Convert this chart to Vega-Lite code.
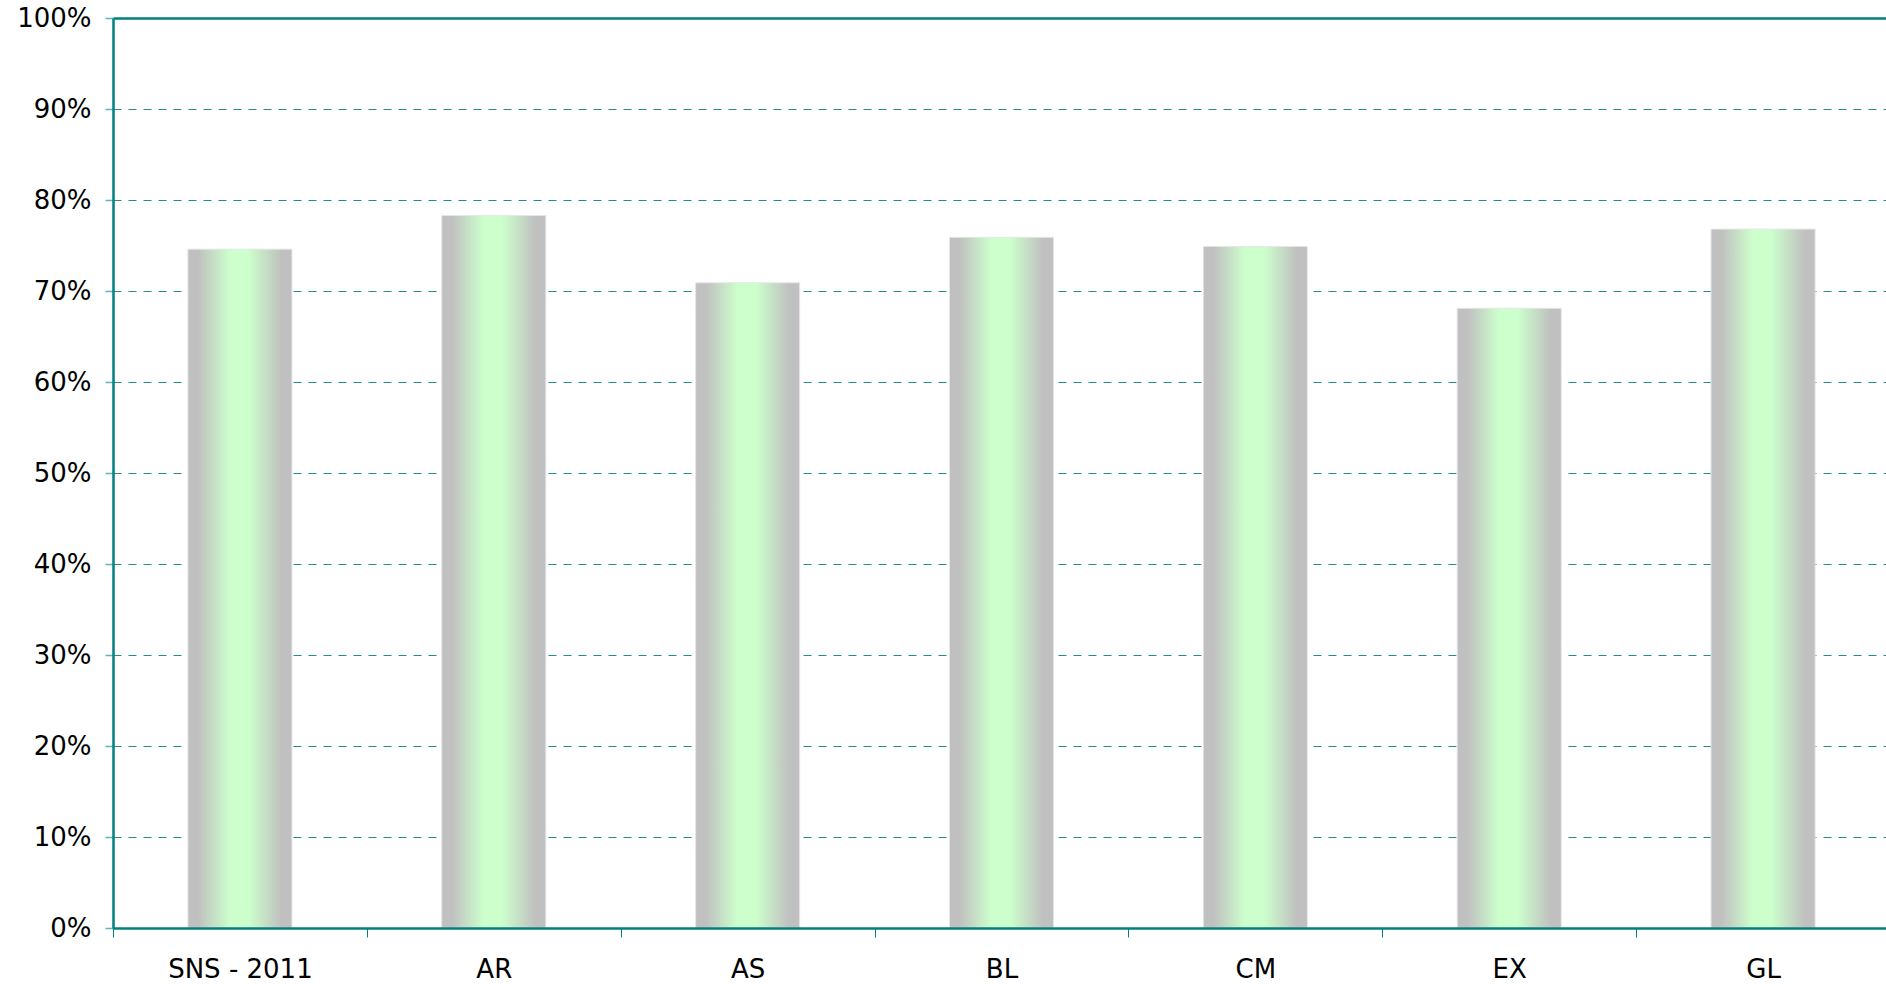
{
  "$schema": "https://vega.github.io/schema/vega-lite/v6.json",
  "autosize": {"type": "none"},
  "padding": {"left": 113, "top": 18, "right": 0, "bottom": 56},
  "width": 1773,
  "height": 910,
  "background": "white",
  "config": {"view": {"stroke": null}},
  "data": {"values": [
    {"region": "SNS - 2011", "value": 0.746},
    {"region": "AR", "value": 0.783},
    {"region": "AS", "value": 0.709},
    {"region": "BL", "value": 0.759},
    {"region": "CM", "value": 0.749},
    {"region": "EX", "value": 0.681},
    {"region": "GL", "value": 0.768}
  ]},
  "mark": {
    "type": "bar",
    "width": {"band": 0.41},
    "stroke": "#e6e6e6",
    "strokeWidth": 1,
    "color": {
      "gradient": "linear",
      "x1": 0, "x2": 1, "y1": 0, "y2": 0,
      "stops": [
        {"offset": 0, "color": "#c0c0c0"},
        {"offset": 0.1, "color": "#c0c0c0"},
        {"offset": 0.4, "color": "#ccffcc"},
        {"offset": 0.58, "color": "#ccffcc"},
        {"offset": 0.9, "color": "#c0c0c0"},
        {"offset": 1, "color": "#c0c0c0"}
      ]
    }
  },
  "encoding": {
    "x": {
      "field": "region",
      "type": "nominal",
      "sort": null,
      "scale": {"paddingInner": 0, "paddingOuter": 0, "range": [0, 1777]},
      "axis": {
        "title": null,
        "labelAngle": 0,
        "labelFont": "DejaVu Sans",
        "labelFontSize": 26,
        "labelColor": "#000000",
        "labelPadding": 19,
        "domainColor": "#008080",
        "domainWidth": 2.5,
        "tickColor": "#008080",
        "tickWidth": 1,
        "tickSize": 9,
        "tickBand": "extent",
        "grid": false,
        "zindex": 1
      }
    },
    "y": {
      "field": "value",
      "type": "quantitative",
      "scale": {"domain": [0, 1], "nice": false},
      "axis": {
        "title": null,
        "values": [0, 0.1, 0.2, 0.3, 0.4, 0.5, 0.6, 0.7, 0.8, 0.9, 1],
        "format": ".0%",
        "labelFont": "DejaVu Sans",
        "labelFontSize": 26,
        "labelColor": "#000000",
        "labelPadding": 14,
        "domainColor": "#008080",
        "domainWidth": 2.5,
        "tickColor": "#66b3b3",
        "tickWidth": 1.5,
        "tickSize": 8,
        "grid": true,
        "gridColor": {"condition": {"test": "datum.value === 1", "value": "#008080"}, "value": "#1f8f8a"},
        "gridWidth": {"condition": {"test": "datum.value === 1", "value": 2.5}, "value": 1},
        "gridDash": {"condition": {"test": "datum.value === 1", "value": []}, "value": [8, 7]}
      }
    }
  }
}
